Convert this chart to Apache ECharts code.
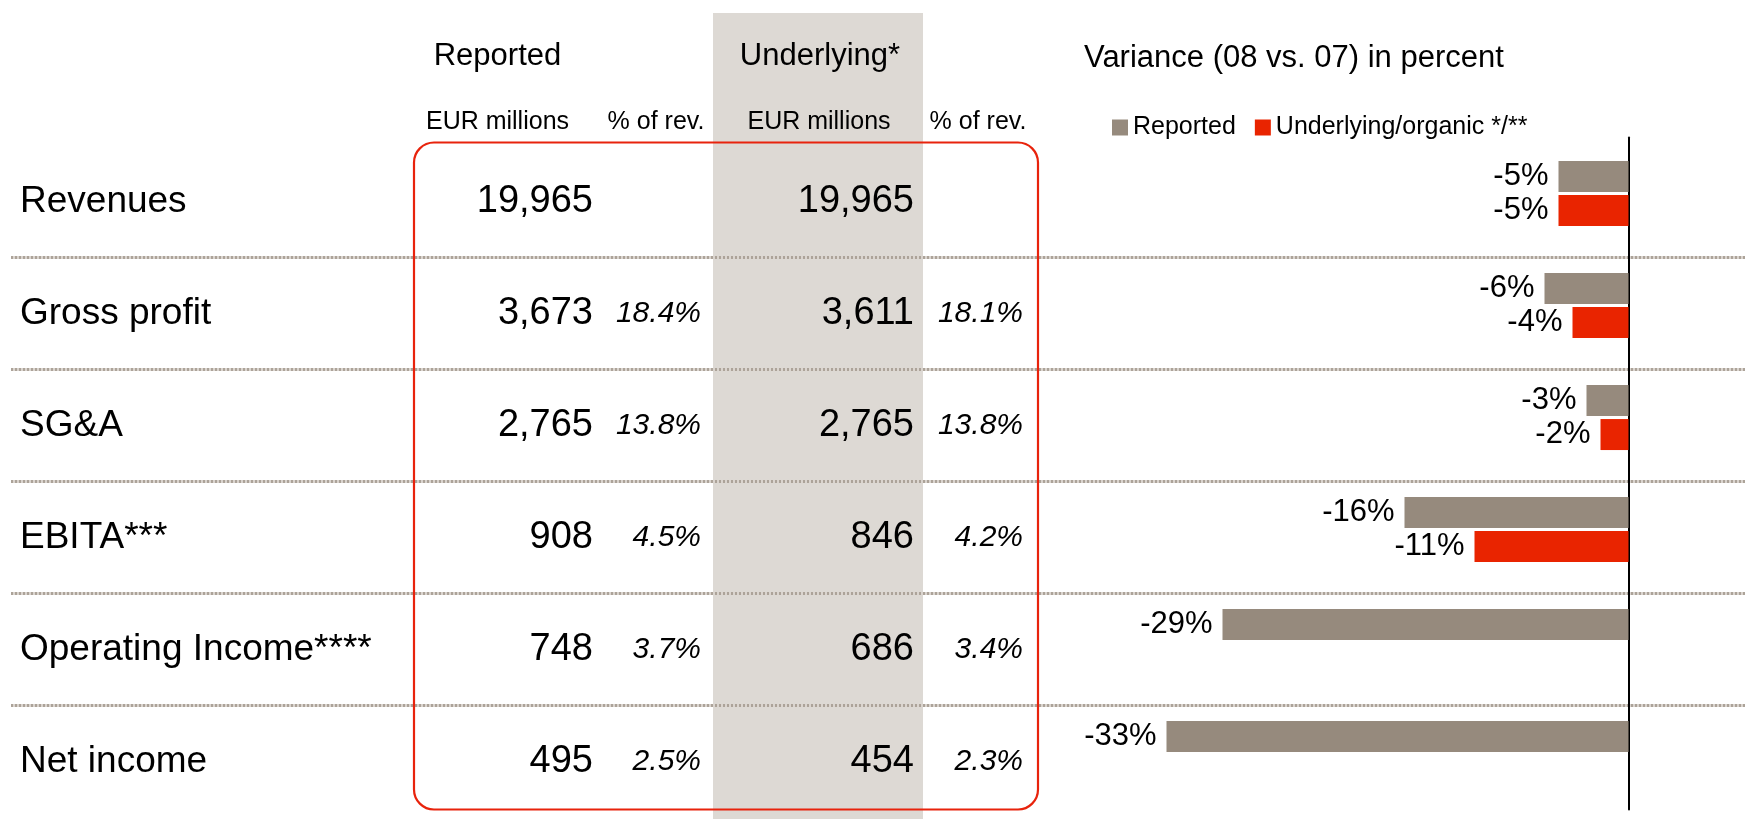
<!DOCTYPE html>
<html>
<head>
<meta charset="utf-8">
<script src="https://cdn.jsdelivr.net/npm/echarts@6/dist/echarts.min.js"></script>
<style>
html,body{margin:0;padding:0;background:#fff;}
#c{width:1745px;height:819px;}
</style>
</head>
<body>
<div id="c"></div>
<script>
// ---- data ----
const categories = ['Revenues', 'Gross profit', 'SG&A', 'EBITA***', 'Operating Income****', 'Net income'];
const reportedEur = [19965, 3673, 2765, 908, 748, 495];
const reportedPct = [null, 18.4, 13.8, 4.5, 3.7, 2.5];
const underlyingEur = [19965, 3611, 2765, 846, 686, 454];
const underlyingPct = [null, 18.1, 13.8, 4.2, 3.4, 2.3];
const varianceReported = [-5, -6, -3, -16, -29, -33];
const varianceUnderlying = [-5, -4, -2, -11, null, null];
const seriesNames = ['Reported', 'Underlying/organic */**'];
const headers = ['Reported', 'Underlying*'];
const subHeaders = ['EUR millions', '% of rev.', 'EUR millions', '% of rev.'];
const chartTitle = 'Variance (08 vs. 07) in percent';

// ---- style ----
const FONT = "'Liberation Sans', Arial, Helvetica, sans-serif";
const GREY = '#968a7d';
const RED = '#e92400';

const chart = echarts.init(document.getElementById('c'), null, {renderer: 'canvas'});

chart.setOption({
  animation: false,
  backgroundColor: '#ffffff',
  title: {
    text: chartTitle,
    left: 1079,
    top: 38,
    textStyle: {fontFamily: FONT, fontSize: 31, fontWeight: 'normal', color: '#000'}
  },
  legend: {
    data: seriesNames,
    left: 1107,
    top: 110,
    icon: 'rect',
    itemWidth: 16,
    itemHeight: 16,
    itemGap: 19,
    textStyle: {fontFamily: FONT, fontSize: 25, color: '#000'}
  },
  grid: {left: 1138.5, right: 116.5, top: 137.5, height: 672, containLabel: false},
  xAxis: {
    type: 'value',
    min: -35,
    max: 0,
    show: false
  },
  yAxis: {
    type: 'category',
    data: categories,
    inverse: true,
    position: 'right',
    axisLine: {show: true, lineStyle: {color: '#000', width: 2}},
    axisTick: {show: false},
    axisLabel: {show: false},
    splitLine: {show: false}
  },
  series: [
    {
      name: seriesNames[0],
      type: 'bar',
      data: varianceReported,
      barWidth: 31,
      barGap: '10%',
      itemStyle: {color: GREY},
      label: {
        show: true, position: 'left', distance: 10,
        fontFamily: FONT, fontSize: 31, color: '#000',
        formatter: p => p.value + '%'
      },
      z: 3
    },
    {
      name: seriesNames[1],
      type: 'bar',
      data: varianceUnderlying,
      barWidth: 31,
      barGap: '10%',
      itemStyle: {color: RED},
      label: {
        show: true, position: 'left', distance: 10,
        fontFamily: FONT, fontSize: 31, color: '#000',
        formatter: p => p.value + '%'
      },
      z: 3
    }
  ]
});

// ---- table drawn from the category axis positions ----
const rowY = categories.map(c => chart.convertToPixel({yAxisIndex: 0}, c));
const half = (rowY[1] - rowY[0]) / 2;
const fmt = v => v.toLocaleString('en-US');
const fmtPct = v => v == null ? '' : v.toFixed(1) + '%';

const g = [];
// grey underlying band
g.push({type: 'rect', z: -10, shape: {x: 713, y: 13, width: 210, height: 806}, style: {fill: '#ddd9d4'}, silent: true});
// dotted separators
for (let i = 0; i < categories.length - 1; i++) {
  const y = Math.round(rowY[i] + half + 7) + 0.5;
  g.push({type: 'line', z: -5, shape: {x1: 11, y1: y, x2: 1745, y2: y}, style: {stroke: '#dad4ce', lineWidth: 3}, silent: true});
  g.push({type: 'line', z: -4, shape: {x1: 11, y1: y, x2: 1745, y2: y}, style: {stroke: '#aca399', lineWidth: 3, lineDash: [2, 2]}, silent: true});
}
// red rounded frame
g.push({type: 'rect', z: 1, shape: {x: 414, y: 142.5, width: 624, height: 667, r: 20}, style: {fill: 'none', stroke: '#e8230c', lineWidth: 2.2}, silent: true});

// headers
const headerX = [497.5, 820];
headers.forEach((h, i) => g.push({type: 'text', z: 5, x: headerX[i], y: 56, style: {text: h, font: '31px ' + FONT, fill: '#000', align: 'center', verticalAlign: 'middle'}}));
const subX = [497.5, 656, 819, 978];
subHeaders.forEach((h, i) => g.push({type: 'text', z: 5, x: subX[i], y: 122, style: {text: h, font: '25px ' + FONT, fill: '#000', align: 'center', verticalAlign: 'middle'}}));

// rows
categories.forEach((c, i) => {
  const y = rowY[i] + 8;
  g.push({type: 'text', z: 5, x: 20, y: y, style: {text: c, font: '37px ' + FONT, fill: '#000', align: 'left', verticalAlign: 'middle'}});
  g.push({type: 'text', z: 5, x: 593, y: y, style: {text: fmt(reportedEur[i]), font: '38px ' + FONT, fill: '#000', align: 'right', verticalAlign: 'middle'}});
  g.push({type: 'text', z: 5, x: 701, y: y, style: {text: fmtPct(reportedPct[i]), font: 'italic 30px ' + FONT, fill: '#000', align: 'right', verticalAlign: 'middle'}});
  g.push({type: 'text', z: 5, x: 914, y: y, style: {text: fmt(underlyingEur[i]), font: '38px ' + FONT, fill: '#000', align: 'right', verticalAlign: 'middle'}});
  g.push({type: 'text', z: 5, x: 1023, y: y, style: {text: fmtPct(underlyingPct[i]), font: 'italic 30px ' + FONT, fill: '#000', align: 'right', verticalAlign: 'middle'}});
});

chart.setOption({graphic: g});
</script>
</body>
</html>
